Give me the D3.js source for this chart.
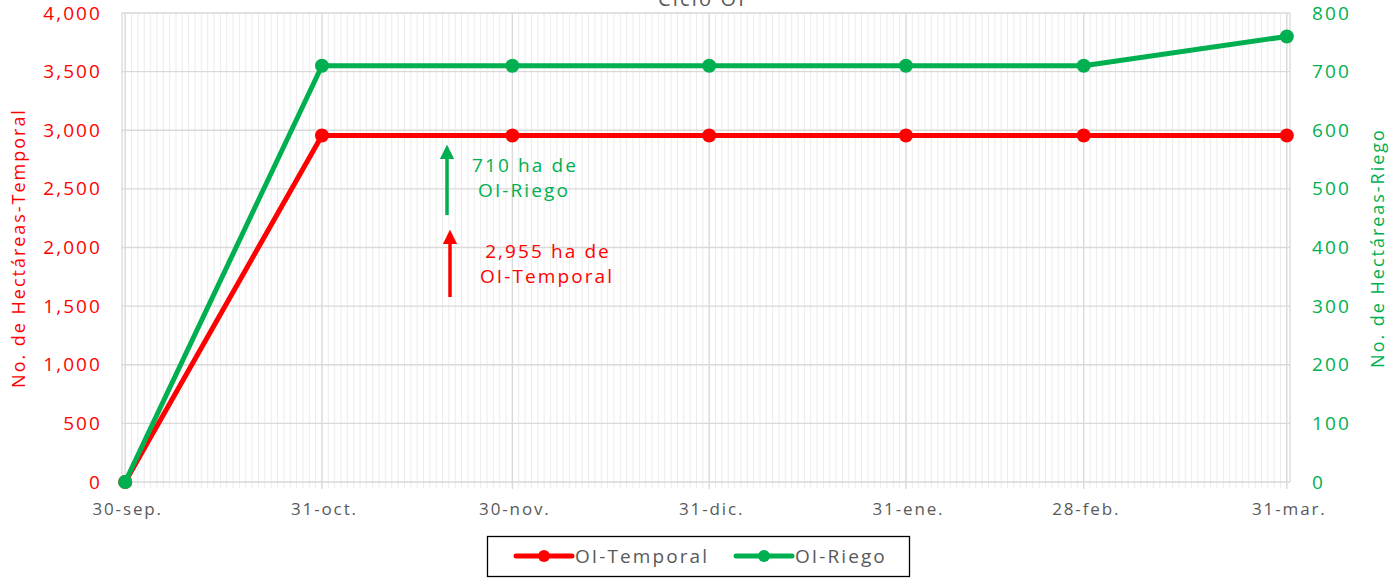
<!DOCTYPE html>
<html><head><meta charset="utf-8">
<script src="https://cdn.jsdelivr.net/npm/d3@7"></script>
<style>body{margin:0;background:#fff;} svg{display:block;font-family:"Open Sans",sans-serif;} svg text{letter-spacing:0.11em;}</style>
</head><body>
<svg id="c" width="1392" height="579"></svg>
<script>
const dates = ["2023-09-30","2023-10-31","2023-11-30","2023-12-31","2024-01-31","2024-02-28","2024-03-31"];
const tickLabels = ["30-sep.","31-oct.","30-nov.","31-dic.","31-ene.","28-feb.","31-mar."];
const temporal = [0,2955,2955,2955,2955,2955,2955];
const riego = [0,710,710,710,710,710,760];
const leftTicks = [0,500,1000,1500,2000,2500,3000,3500,4000];
const rightTicks = [0,100,200,300,400,500,600,700,800];
const seriesNames = ["OI-Temporal","OI-Riego"];

const RED="#FF0000", GREEN="#00B050", GRAY="#595959";
const FF="'Open Sans',sans-serif";
const svg=d3.select("#c");
const parse=d3.utcParse("%Y-%m-%d");
const dts=dates.map(parse);
const L=122,R=1290,T=13,B=482;
const x=d3.scaleUtc().domain([d3.utcHour.offset(dts[0],-12),d3.utcHour.offset(dts[dts.length-1],12)]).range([L,R]);
const yL=d3.scaleLinear().domain([0,4000]).range([B,T]);
const yR=d3.scaleLinear().domain([0,800]).range([B,T]);

// minor daily gridlines
const days=d3.utcDay.range(dts[0],d3.utcDay.offset(dts[dts.length-1],1));
svg.append("g").selectAll("line").data(days).join("line")
 .attr("x1",d=>x(d)).attr("x2",d=>x(d)).attr("y1",T).attr("y2",B+6)
 .attr("stroke","#ececec").attr("stroke-width",1);
// horizontal gridlines
svg.append("g").selectAll("line").data(leftTicks).join("line")
 .attr("x1",L).attr("x2",R).attr("y1",d=>yL(d)).attr("y2",d=>yL(d))
 .attr("stroke","#d9d9d9").attr("stroke-width",1.3);
// major vertical gridlines
svg.append("g").selectAll("line").data(dts).join("line")
 .attr("x1",d=>x(d)).attr("x2",d=>x(d)).attr("y1",T).attr("y2",B+7)
 .attr("stroke","#d9d9d9").attr("stroke-width",1.3);
svg.append("line").attr("x1",L).attr("x2",L).attr("y1",T).attr("y2",B).attr("stroke","#d9d9d9").attr("stroke-width",1.3);
svg.append("line").attr("x1",R).attr("x2",R).attr("y1",T).attr("y2",B).attr("stroke","#d9d9d9").attr("stroke-width",1.3);

// axes
const fmt=d3.format(",");
const gl=svg.append("g").attr("transform",`translate(${L},0)`)
 .call(d3.axisLeft(yL).tickValues(leftTicks).tickFormat(fmt).tickSize(0).tickPadding(20));
gl.select(".domain").remove();
gl.selectAll("text").attr("fill",RED).style("font-size","19px").style("font-family",FF);
const gr=svg.append("g").attr("transform",`translate(${R},0)`)
 .call(d3.axisRight(yR).tickValues(rightTicks).tickSize(0).tickPadding(22));
gr.select(".domain").remove();
gr.selectAll("text").attr("fill",GREEN).style("font-size","19px").style("font-family",FF);
const gx=svg.append("g").attr("transform",`translate(2,${B})`)
 .call(d3.axisBottom(x).tickValues(dts).tickFormat((d,i)=>tickLabels[i]).tickSize(0).tickPadding(21));
gx.select(".domain").remove();
gx.selectAll("text").attr("fill",GRAY).style("font-size","17px").style("font-family",FF);

// title
svg.append("text").attr("x",702).attr("y",6).attr("text-anchor","middle").attr("fill",GRAY)
 .style("font-size","20px").text("Ciclo OI");

// axis titles
svg.append("text").attr("transform","translate(25,248) rotate(-90)").attr("text-anchor","middle")
 .attr("fill",RED).style("font-size","18px").text("No. de Hectáreas-Temporal");
svg.append("text").attr("transform","translate(1384,248) rotate(-90)").attr("text-anchor","middle")
 .attr("fill",GREEN).style("font-size","18px").text("No. de Hectáreas-Riego");

// lines
const lineL=d3.line().x((d,i)=>x(dts[i])).y(d=>yL(d));
const lineR=d3.line().x((d,i)=>x(dts[i])).y(d=>yR(d));
svg.append("path").datum(temporal).attr("d",lineL).attr("fill","none").attr("stroke",RED).attr("stroke-width",5).attr("stroke-linejoin","round");
svg.append("g").selectAll("circle").data(temporal).join("circle").attr("cx",(d,i)=>x(dts[i])).attr("cy",d=>yL(d)).attr("r",7).attr("fill",RED);
svg.append("path").datum(riego).attr("d",lineR).attr("fill","none").attr("stroke",GREEN).attr("stroke-width",5).attr("stroke-linejoin","round");
svg.append("g").selectAll("circle").data(riego).join("circle").attr("cx",(d,i)=>x(dts[i])).attr("cy",d=>yR(d)).attr("r",7).attr("fill",GREEN);

// annotations
const defs=svg.append("defs");
function arrow(id,color){defs.append("marker").attr("id",id).attr("viewBox","0 0 10 10").attr("refX",5).attr("refY",5)
 .attr("markerWidth",4.2).attr("markerHeight",4.2).attr("orient","auto")
 .append("path").attr("d","M0,0 L10,5 L0,10 Z").attr("fill",color);}
arrow("ag",GREEN);arrow("ar",RED);
svg.append("line").attr("x1",447).attr("y1",215).attr("x2",447).attr("y2",152).attr("stroke",GREEN).attr("stroke-width",3.5).attr("marker-end","url(#ag)");
svg.append("line").attr("x1",450).attr("y1",297).attr("x2",450).attr("y2",237).attr("stroke",RED).attr("stroke-width",3.5).attr("marker-end","url(#ar)");
const ta=svg.append("text").attr("fill",GREEN).attr("text-anchor","middle").style("font-size","19px");
ta.append("tspan").attr("x",525).attr("y",172).text(riego[1]+" ha de");
ta.append("tspan").attr("x",524).attr("y",197).text("OI-Riego");
const tb=svg.append("text").attr("fill",RED).attr("text-anchor","middle").style("font-size","19px");
tb.append("tspan").attr("x",548).attr("y",258).text(fmt(temporal[1])+" ha de");
tb.append("tspan").attr("x",547).attr("y",283).text("OI-Temporal");

// legend
svg.append("rect").attr("x",487.5).attr("y",536.5).attr("width",422).attr("height",40).attr("fill","#fff").attr("stroke","#000").attr("stroke-width",1.3);
const lg=[{n:seriesNames[0],c:RED,x:516},{n:seriesNames[1],c:GREEN,x:736}];
lg.forEach(d=>{
 svg.append("line").attr("x1",d.x).attr("x2",d.x+56).attr("y1",556).attr("y2",556).attr("stroke",d.c).attr("stroke-width",5).attr("stroke-linecap","round");
 svg.append("circle").attr("cx",d.x+28).attr("cy",556).attr("r",6).attr("fill",d.c);
 svg.append("text").attr("x",d.x+59).attr("y",563).attr("fill",GRAY).style("font-size","19px").text(d.n);
});
</script>
</body></html>
